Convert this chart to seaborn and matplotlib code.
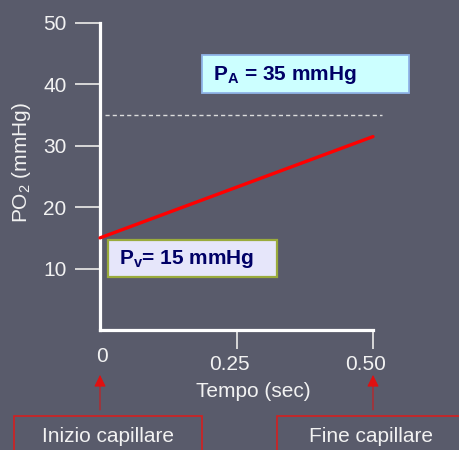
import matplotlib
matplotlib.use("Agg")
import matplotlib.pyplot as plt
import matplotlib.transforms as mtransforms
from matplotlib.patches import Rectangle
import seaborn as sns
import pandas as pd

# --- data ---------------------------------------------------------------
tempo = [0.0, 0.5]            # s, from start to end of the capillary
po2_capillare = [15, 31.5]    # mmHg along the capillary
po2_alveolare = 35            # mmHg, alveolar PO2
po2_venoso = 15               # mmHg, mixed venous PO2

y_ticks = [10, 20, 30, 40, 50]
y_ticklabels = ["10", "20", "30", "40", "50"]
x_ticks = [0.25, 0.5]
x_ticklabels = ["0.25", "0.50"]
x_origin_label = "0"

label_pa = r"P$_\mathbf{A}$ = 35 mmHg"
label_pv = r"P$_\mathbf{v}$= 15 mmHg"
label_inizio = "Inizio capillare"
label_fine = "Fine capillare"

# --- style --------------------------------------------------------------
W, H = 459, 450
BG = "#595b6b"
FS = 15
sns.set_style("ticks")
plt.rcParams["font.family"] = ["Liberation Sans", "DejaVu Sans"]
plt.rcParams["mathtext.fontset"] = "custom"
plt.rcParams["mathtext.rm"] = "Liberation Sans"
plt.rcParams["mathtext.bf"] = "Liberation Sans:bold"
plt.rcParams["mathtext.it"] = "Liberation Sans:italic"

fig = plt.figure(figsize=(W / 100, H / 100), dpi=100, facecolor=BG)


def fx(px):
    return px / W


def fy(py):
    return 1 - py / H


ax = fig.add_axes([fx(100), fy(330), (373 - 100) / W, (330 - 23) / H])
ax.set_facecolor("none")

df = pd.DataFrame({"Tempo": tempo, "PO2": po2_capillare})
sns.lineplot(data=df, x="Tempo", y="PO2", color="#ff0000", linewidth=2.4,
             ax=ax, clip_on=False, zorder=5)

ax.hlines(po2_alveolare, 0.009, 0.516, colors="#dcdcdc", linewidth=1.0,
          linestyles=(0, (3, 2.2)), clip_on=False)

ax.set_xlim(0, 0.5)
ax.set_ylim(0, 50)

for side in ("top", "right"):
    ax.spines[side].set_visible(False)
for side in ("left", "bottom"):
    ax.spines[side].set_color("white")
    ax.spines[side].set_linewidth(2.3)
    ax.spines[side].set_capstyle("projecting")

ax.set_yticks(y_ticks, y_ticklabels)
ax.set_xticks(x_ticks, x_ticklabels)
ax.tick_params(axis="y", direction="out", length=18, width=1.4,
               color="#d8d8d8", labelcolor="#f2f2f2", labelsize=FS, pad=6)
ax.tick_params(axis="x", direction="out", length=14, width=1.4,
               color="#d8d8d8", labelcolor="#f2f2f2", labelsize=FS, pad=4)
shift = mtransforms.ScaledTranslation(-7 / 100, 0, fig.dpi_scale_trans)
for lab in ax.get_xticklabels():
    lab.set_transform(lab.get_transform() + shift)

ax.text(0.0, 0, x_origin_label, transform=ax.get_xaxis_transform()
        + mtransforms.ScaledTranslation(2 / 100, -27 / 100, fig.dpi_scale_trans),
        ha="center", va="center", color="#f2f2f2", fontsize=FS)

ax.set_xlabel("Tempo (sec)", color="#f2f2f2", fontsize=FS)
ax.xaxis.set_label_coords((253 - 100) / 273, (330 - 382) / 307)
ax.set_ylabel(r"PO$_2$ (mmHg)", color="#f2f2f2", fontsize=FS)
ax.yaxis.set_label_coords((33 - 100) / 273, (330 - 163) / 307)


def box(x0, y0, x1, y1, face, edge, lw):
    fig.add_artist(Rectangle((fx(x0), fy(y1)), (x1 - x0) / W, (y1 - y0) / H,
                             transform=fig.transFigure, facecolor=face,
                             edgecolor=edge, linewidth=lw, zorder=6,
                             clip_on=False))


# value boxes
box(202, 55, 409, 93, "#ccffff", "#8fb4e8", 1.3)
fig.text(fx(213), fy(75), label_pa, ha="left", va="center", fontsize=FS,
         fontweight="bold", color="#000066", zorder=7)
box(108, 240, 277, 277, "#e6e6fa", "#9aab3c", 1.6)
fig.text(fx(119), fy(259), label_pv, ha="left", va="center", fontsize=FS,
         fontweight="bold", color="#000066", zorder=7)

# capillary-end boxes
box(14, 416, 202, 462, "none", "#d42020", 1.2)
fig.text(fx(108), fy(437), label_inizio, ha="center", va="center",
         fontsize=FS, color="#f2f2f2")
box(277, 416, 475, 462, "none", "#d42020", 1.2)
fig.text(fx(371), fy(437), label_fine, ha="center", va="center",
         fontsize=FS, color="#f2f2f2")

# arrows pointing at the start and end of the capillary
for xv in (tempo[0], tempo[-1]):
    ax.annotate("", xy=(xv, H - 375), xytext=(xv, H - 410),
                xycoords=("data", "figure pixels"),
                textcoords=("data", "figure pixels"),
                arrowprops=dict(arrowstyle="-|>,head_length=0.6,head_width=0.3",
                                color="#e01010", lw=0.7,
                                mutation_scale=12, shrinkA=0, shrinkB=0),
                annotation_clip=False)

fig.savefig("out.png", dpi=100, facecolor=BG)
